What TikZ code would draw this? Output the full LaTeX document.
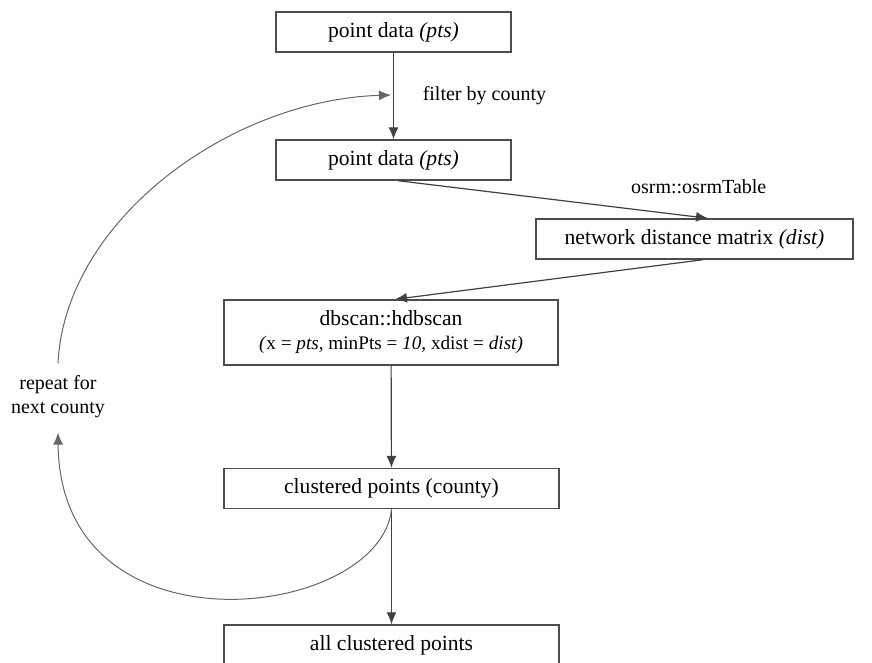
\documentclass[tikz,border=0pt]{standalone}
\usepackage{fontspec}
\setmainfont{Liberation Serif}
\usetikzlibrary{arrows.meta, positioning}
\tikzset{
  box/.style={rectangle,draw=black!70,line width=0.7pt,align=center,inner sep=2pt,minimum height=20pt,font=\fontsize{10.8}{13}\selectfont},
  line/.style={-{Latex[length=6pt,width=5pt]},draw=black!75,line width=0.6pt},
  loop/.style={-{Latex[length=6pt,width=5pt]},draw=black!60,line width=0.5pt},
  lbl/.style={font=\fontsize{10}{12}\selectfont}
}

\begin{document}
\begin{tikzpicture}[x=0.5pt,y=-0.5pt]
\useasboundingbox (0,0) rectangle (872,663);
\node[box,minimum width=117.5pt] (pts) at (393.5,32) {point data \textit{(pts)}};
\node[box,minimum width=117.5pt] (ptsc) at (393.5,160) {point data \textit{(pts)}};
\node[box,minimum width=158.5pt] (dist) at (694.5,239) {network distance matrix \textit{(dist)}};
\node[box,minimum width=167pt,minimum height=32.5pt] (hdb) at (391,332.5)
  {dbscan::hdbscan\\[-1pt]{\fontsize{9.6}{11}\selectfont\textit{(}x = \textit{pts,} minPts = \textit{10,} xdist = \textit{dist)}}};
\node[box,minimum width=167.5pt] (clus) at (391.5,488.5) {clustered points (county)};
\node[box,minimum width=167.5pt] (all) at (391.5,645) {all clustered points};
\node[lbl,align=center,inner sep=1pt] (rep) at (58,397) {repeat for\\next county};
\coordinate (back) at (391,95);
\draw[line] (pts) -- node[lbl,right=11pt] {filter by county} (ptsc);
\draw[line] ([xshift=2.25pt]ptsc.south) -- node[lbl,pos=0.97,above=8pt] {osrm::osrmTable} ([xshift=6.75pt]dist.north);
\draw[line] ([xshift=4.25pt]dist.south) -- ([xshift=2pt]hdb.north);
\draw[line] (hdb) -- (clus);
\draw[line] (clus) -- (all);
\draw[loop] (clus.south) .. controls (380,620) and (60,660) .. ([yshift=-6pt]rep.south);
\draw[loop] ([yshift=5pt]rep.north) .. controls (65,220) and (230,100) .. (back);
\end{tikzpicture}
\end{document}
